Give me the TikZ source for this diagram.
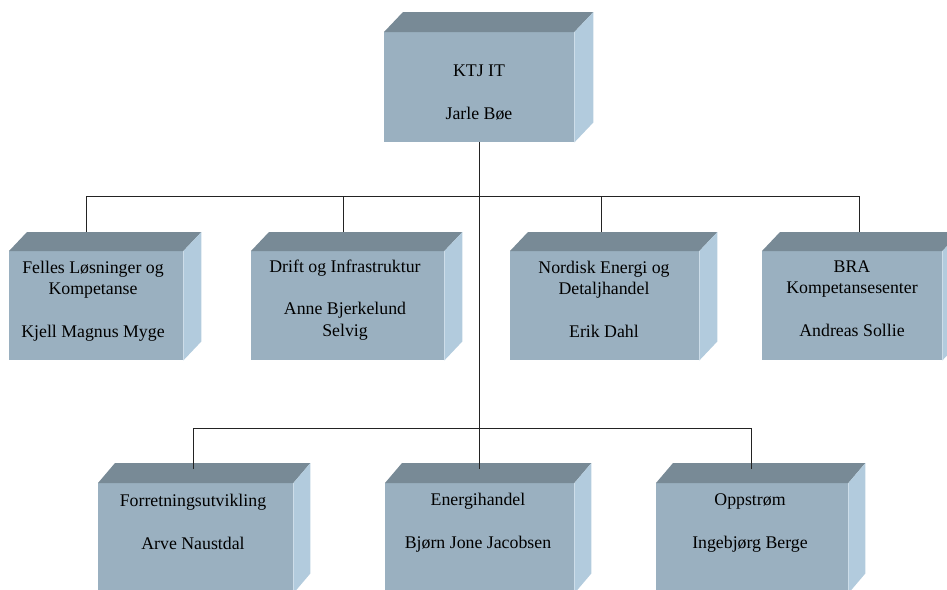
\documentclass[tikz,border=0pt]{standalone}
\usepackage{fontspec}
\setmainfont{Liberation Serif}
\usetikzlibrary{calc}

\definecolor{facefront}{RGB}{154,176,192}
\definecolor{facetop}{RGB}{120,138,150}
\definecolor{faceside}{RGB}{178,203,221}
\definecolor{linkc}{RGB}{35,35,35}

% top and right faces of a block whose front face is node #1, depth (#2,#3)
\newcommand\cubefaces[3]{%
  \fill[facetop] (#1.north west) -- ++(#2,-#3) -- ($(#1.north east)+(#2,-#3)$) -- (#1.north east) -- cycle;
  \fill[faceside] (#1.north east) -- ++(#2,-#3) -- ($(#1.south east)+(#2,-#3)$) -- (#1.south east) -- cycle;
}

\tikzset{
  front/.style={fill=facefront, draw=none, inner sep=0pt, anchor=north west},
  % captions are placed by the baseline of their last line
  caption/.style={font=\fontsize{17.8}{21.3}\selectfont, align=center, anchor=base, inner sep=0pt},
  link/.style={draw=linkc, line width=1pt}
}

\begin{document}
\begin{tikzpicture}[x=1pt,y=-1pt]
\useasboundingbox (0,0) rectangle (947,589);

% head of unit
\node[front, minimum width=190pt, minimum height=110pt] (top) at (384,32) {};
\cubefaces{top}{19}{20}

% middle row
\node[front, minimum width=174pt, minimum height=109pt] (m1) at (9,251) {};
\node[front, minimum width=193pt, minimum height=109pt] (m2) at (251,251) {};
\node[front, minimum width=189pt, minimum height=109pt] (m3) at (510,251) {};
\node[front, minimum width=180pt, minimum height=109pt] (m4) at (762,251) {};
\foreach \n in {m1,m2,m3,m4}{\cubefaces{\n}{18}{19}}

% bottom row
\node[front, minimum width=195pt, minimum height=110pt] (b1) at (98,483) {};
\node[front, minimum width=189pt, minimum height=110pt] (b2) at (385,483) {};
\node[front, minimum width=192pt, minimum height=110pt] (b3) at (656,483) {};
\foreach \n in {b1,b2,b3}{\cubefaces{\n}{17}{20}}

% captions
\node[caption] (ttop) at (479,119) {KTJ IT\\[21.7pt]Jarle Bøe};
\node[caption] (tm1) at (93,337) {Felles Løsninger og\\Kompetanse\\[21.3pt]Kjell Magnus Myge};
\node[caption] (tm2) at (345,336) {Drift og Infrastruktur\\[21.3pt]Anne Bjerkelund\\Selvig};
\node[caption] (tm3) at (604,337) {Nordisk Energi og\\Detaljhandel\\[21.3pt]Erik Dahl};
\node[caption] (tm4) at (852,336) {BRA\\Kompetansesenter\\[21.3pt]Andreas Sollie};
\node[caption] (tb1) at (193,549) {Forretningsutvikling\\[21pt]Arve Naustdal};
\node[caption] (tb2) at (478,548) {Energihandel\\[21pt]Bjørn Jone Jacobsen};
\node[caption] (tb3) at (750,548) {Oppstrøm\\[21pt]Ingebjørg Berge};

% connector ends
\coordinate (bus1) at (0,196);
\coordinate (bus2) at (0,428);
\coordinate (m1in) at (86,232);
\coordinate (m2in) at (343,232);
\coordinate (m3in) at (601,232);
\coordinate (m4in) at (859,232);
\coordinate (b1in) at (193,469);
\coordinate (b2in) at (479,469);
\coordinate (b3in) at (751,469);

% connectors
\draw[link] (top.south) -- (top.south |- bus2);
\draw[link] (m1in |- bus1) -- (m4in |- bus1);
\foreach \c in {m1in,m2in,m3in,m4in}{\draw[link] (\c |- bus1) -- (\c);}
\draw[link] (b1in |- bus2) -- (b3in |- bus2);
\foreach \c in {b1in,b2in,b3in}{\draw[link] (\c |- bus2) -- (\c);}
\end{tikzpicture}
\end{document}
